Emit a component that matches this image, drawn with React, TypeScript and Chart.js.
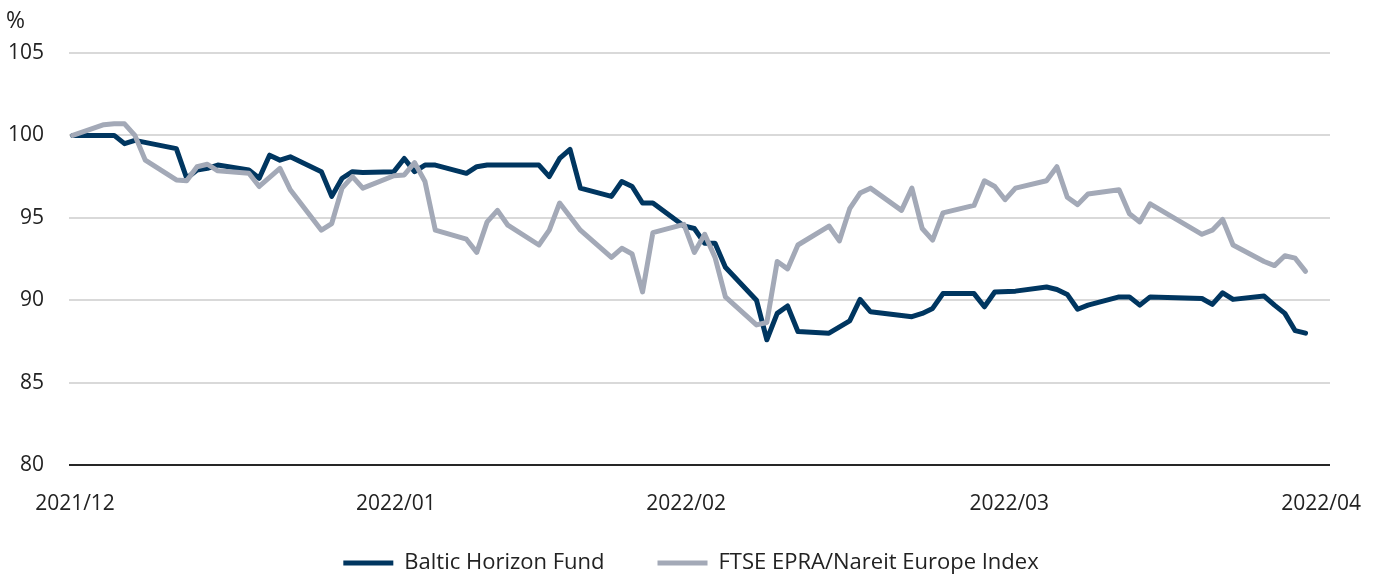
import React, { useEffect, useRef } from "react";
import { Chart, registerables } from "chart.js";

Chart.register(...registerables);

// x values: calendar days counted from the first observation (Fri 2021-12-03 = 0)
const balticDays = [
  0, 4, 5, 6, 10, 11, 12, 13, 14, 17, 18, 19, 20, 21, 24, 25, 26, 27, 28,
  31, 32, 33, 34, 35, 38, 39, 40, 45, 46, 47, 48, 49, 52, 53, 54, 55, 56,
  59, 60, 61, 62, 63, 66, 67, 68, 69, 70, 73, 75, 76, 77, 81, 82, 83, 84,
  87, 88, 89, 91, 94, 95, 96, 97, 98, 101, 102, 103, 104, 109, 110, 111,
  112, 115, 116, 117, 118, 119,
];
const balticValues = [
  100.0, 100.0, 99.5, 99.7, 99.2, 97.4, 97.9, 98.0, 98.2, 97.9, 97.4, 98.8,
  98.5, 98.7, 97.8, 96.3, 97.4, 97.8, 97.75,
  97.8, 98.6, 97.8, 98.2, 98.2, 97.7, 98.1, 98.2, 98.2, 97.5, 98.6, 99.15,
  96.8, 96.3, 97.2, 96.9, 95.9, 95.9,
  94.5, 94.35, 93.45, 93.45, 92.0, 90.0, 87.6, 89.2, 89.65, 88.1, 88.0,
  88.75, 90.05, 89.3, 89.0, 89.2, 89.5, 90.4,
  90.4, 89.6, 90.5, 90.55, 90.8, 90.65, 90.35, 89.45, 89.7, 90.2, 90.2, 89.7,
  90.2, 90.1, 89.75, 90.45,
  90.05, 90.25, 89.7, 89.2, 88.15, 88.0,
];

const ftseDays = [
  0, 3, 4, 5, 6, 7, 10, 11, 12, 13, 14, 17, 18, 20, 21, 24, 25, 26, 27, 28,
  31, 32, 33, 34, 35, 38, 39, 40, 41, 42, 45, 46, 47, 49, 52, 53, 54, 55, 56,
  59, 60, 61, 62, 63, 66, 67, 68, 69, 70, 73, 74, 75, 76, 77, 80, 81, 82, 83,
  84, 87, 88, 89, 90, 91, 94, 95, 96, 97, 98, 101, 102, 103, 104, 109, 110,
  111, 112, 115, 116, 117, 118, 119,
];
const ftseValues = [
  100.0, 100.65, 100.7, 100.7, 100.0, 98.5, 97.3, 97.25, 98.1, 98.25, 97.85,
  97.7, 96.9, 98.0, 96.7, 94.25, 94.65, 96.8, 97.5, 96.8,
  97.55, 97.6, 98.35, 97.2, 94.25, 93.7, 92.9, 94.75, 95.45, 94.55, 93.35,
  94.25, 95.9, 94.25, 92.6, 93.15, 92.8, 90.5, 94.1,
  94.6, 92.9, 94.0, 92.6, 90.2, 88.5, 88.65, 92.35, 91.9, 93.35, 94.5, 93.6,
  95.55, 96.5, 96.8, 95.45, 96.8, 94.35, 93.65,
  95.3, 95.75, 97.25, 96.9, 96.1, 96.8, 97.25, 98.1, 96.25, 95.8, 96.45, 96.7,
  95.25, 94.75, 95.85, 94.0, 94.25,
  94.9, 93.35, 92.35, 92.1, 92.7, 92.55, 91.75,
];

const seriesNames = ["Baltic Horizon Fund", "FTSE EPRA/Nareit Europe Index"];
const xTickDays = [0.22, 31.2, 59.2, 90.4, 120.5];
const xTickLabels = ["2021/12", "2022/01", "2022/02", "2022/03", "2022/04"];
const yTickValues = [80, 85, 90, 95, 100, 105];
const unitLabel = "%";

const NAVY = "#003660";
const GREY = "#a3a9b7";
const TEXT = "#222222";
const FONT_FAMILY = "'Open Sans', sans-serif";

const unitPlugin = {
  id: "unitLabel",
  afterDraw(chart: any) {
    const c = chart.ctx;
    c.save();
    c.font = `23px ${FONT_FAMILY}`;
    c.fillStyle = TEXT;
    c.textAlign = "left";
    c.textBaseline = "middle";
    c.fillText(unitLabel, 6, 21);
    c.restore();
  },
};

// nudges the legend row up to its place under the axis labels
const legendPlacePlugin = {
  id: "legendPlace",
  afterLayout(chart: any) {
    const lg = chart.legend;
    if (!lg) return;
    lg.top -= 17;
    lg.left += 26;
    lg.right += 26;
  },
};

export default function App() {
  const ref = useRef<HTMLCanvasElement>(null);

  useEffect(() => {
    const tickFont = { family: FONT_FAMILY, size: 21 };
    const legendFont = { family: FONT_FAMILY, size: 22 };
    const chart = new Chart(ref.current as HTMLCanvasElement, {
      type: "line",
      data: {
        datasets: [
          {
            label: seriesNames[0],
            data: balticDays.map((d, i) => ({ x: d, y: balticValues[i] })),
            borderColor: NAVY,
            backgroundColor: NAVY,
            borderWidth: 5,
            pointRadius: 0,
            tension: 0,
            borderJoinStyle: "round",
            borderCapStyle: "round",
            order: 1,
          },
          {
            label: seriesNames[1],
            data: ftseDays.map((d, i) => ({ x: d, y: ftseValues[i] })),
            borderColor: GREY,
            backgroundColor: GREY,
            borderWidth: 5,
            pointRadius: 0,
            tension: 0,
            borderJoinStyle: "round",
            borderCapStyle: "round",
            order: 0,
          },
        ],
      },
      options: {
        animation: false,
        responsive: true,
        maintainAspectRatio: false,
        layout: { padding: { left: 0, right: 45, top: 53, bottom: 0 } },
        scales: {
          x: {
            type: "linear",
            min: -0.36,
            max: 121.36,
            afterBuildTicks: (axis: any) => {
              axis.ticks = xTickDays.map((v) => ({ value: v }));
            },
            afterFit: (axis: any) => {
              axis.height = 51;
              axis.paddingLeft = 0;
              axis.paddingRight = 0;
            },
            grid: { display: false, drawTicks: false },
            border: { display: false },
            ticks: {
              padding: 26,
              font: tickFont,
              color: TEXT,
              maxRotation: 0,
              autoSkip: false,
              callback: (_v: any, i: number) => xTickLabels[i],
            },
          },
          y: {
            min: 80,
            max: 105,
            afterBuildTicks: (axis: any) => {
              axis.ticks = yTickValues.map((v) => ({ value: v }));
            },
            afterFit: (axis: any) => {
              axis.width = 69;
              axis.paddingTop = 0;
              axis.paddingBottom = 0;
            },
            grid: {
              color: (ctx: any) =>
                ctx.tick && ctx.tick.value === 80 ? "#262626" : "#d9d9d9",
              lineWidth: 2,
              drawTicks: false,
            },
            border: { display: false },
            ticks: { padding: 25, font: tickFont, color: TEXT },
          },
        },
        plugins: {
          legend: {
            position: "bottom",
            maxHeight: 62,
            labels: {
              usePointStyle: true,
              pointStyle: "line",
              pointStyleWidth: 50,
              padding: 53,
              font: legendFont,
              color: TEXT,
              sort: (a: any, b: any) => a.datasetIndex - b.datasetIndex,
            },
          },
          tooltip: { enabled: false },
          title: { display: false },
        },
      } as any,
      plugins: [unitPlugin, legendPlacePlugin],
    });
    return () => chart.destroy();
  }, []);

  return (
    <div style={{ position: "fixed", left: 0, top: 0, width: 1375, height: 578, background: "#fff" }}>
      <canvas ref={ref} />
    </div>
  );
}
